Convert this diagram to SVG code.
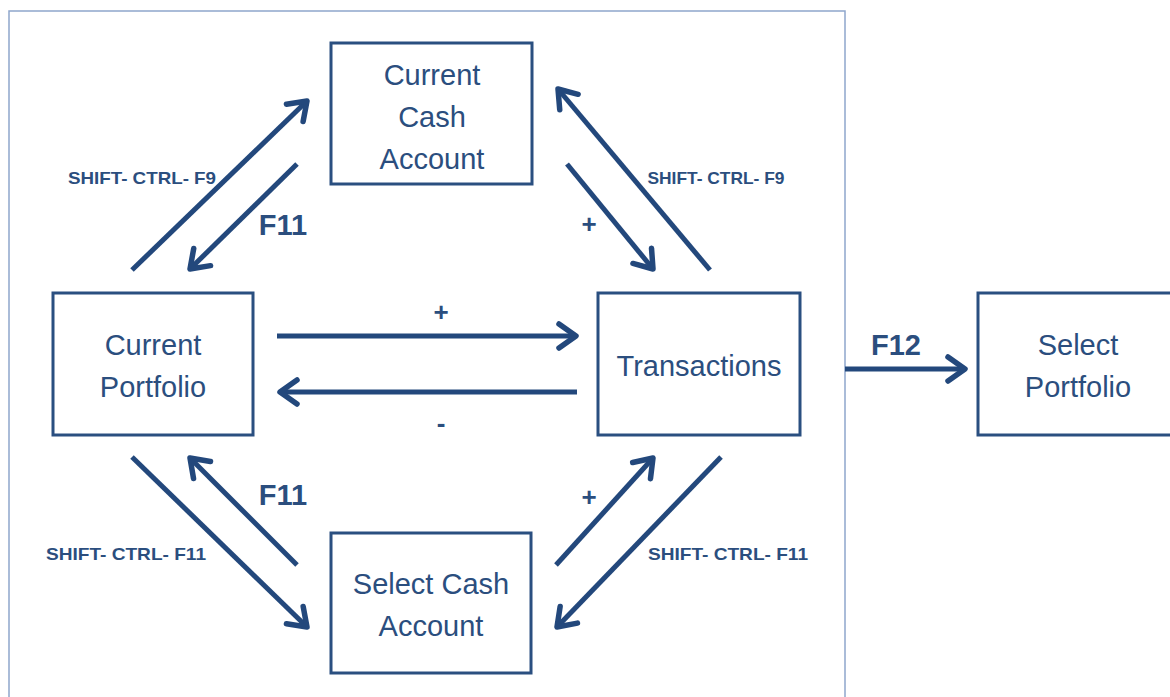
<svg xmlns="http://www.w3.org/2000/svg" width="1170" height="697" viewBox="0 0 1170 697">
<defs>
<style>
.frame{fill:none;stroke:#8EA6CC;stroke-width:1.5}
.box{fill:#fff;stroke:#2A4F80;stroke-width:3}
.lbl{font-family:"Liberation Sans",Arial,sans-serif;fill:#2B4E7E;font-size:29px;text-anchor:middle}
.key{font-family:"Liberation Sans",Arial,sans-serif;fill:#2B4E7E;font-weight:bold;text-anchor:middle}
.s{font-size:17px}
.b{font-size:29px}
.p{font-size:26px}
.arr{fill:none;stroke:#23487C;stroke-width:5;marker-end:url(#ah)}
</style>
<marker id="ah" markerUnits="userSpaceOnUse" markerWidth="34" markerHeight="34" viewBox="0 0 34 34" refX="28" refY="17" orient="auto" overflow="visible">
<path d="M11,5 L28,17 L11,29" fill="none" stroke="#23487C" stroke-width="5.5" stroke-linecap="round" stroke-linejoin="round"/>
</marker>
</defs>
<rect class="frame" x="9" y="11" width="836" height="700"/>
<g id="connectors">
<line class="arr" x1="132" y1="270" x2="307" y2="101"/>
<line class="arr" x1="297" y1="164" x2="190" y2="269"/>
<line class="arr" x1="567" y1="164" x2="653" y2="269"/>
<line class="arr" x1="710" y1="270" x2="558" y2="89"/>
<line class="arr" x1="277" y1="336" x2="576" y2="336"/>
<line class="arr" x1="577" y1="392" x2="280" y2="392"/>
<line class="arr" x1="845" y1="369" x2="965" y2="369"/>
<line class="arr" x1="132" y1="457" x2="307" y2="627"/>
<line class="arr" x1="297" y1="565" x2="190" y2="458"/>
<line class="arr" x1="556" y1="565" x2="653" y2="458"/>
<line class="arr" x1="721" y1="457" x2="557" y2="627"/>
<text class="key s" x="142" y="184" textLength="148" lengthAdjust="spacingAndGlyphs">SHIFT- CTRL- F9</text>
<text class="key b" x="283" y="235">F11</text>
<text class="key p" x="589" y="233">+</text>
<text class="key s" x="716" y="184" textLength="137" lengthAdjust="spacingAndGlyphs">SHIFT- CTRL- F9</text>
<text class="key p" x="441" y="321">+</text>
<text class="key p" x="441" y="432">-</text>
<text class="key b" x="896" y="355">F12</text>
<text class="key b" x="283" y="505">F11</text>
<text class="key s" x="126" y="560" textLength="160" lengthAdjust="spacingAndGlyphs">SHIFT- CTRL- F11</text>
<text class="key p" x="589" y="506">+</text>
<text class="key s" x="728" y="560" textLength="160" lengthAdjust="spacingAndGlyphs">SHIFT- CTRL- F11</text>
</g>
<g id="current-cash-account">
<rect class="box" x="331" y="43" width="201" height="141"/>
<text class="lbl" x="432" y="85">Current</text>
<text class="lbl" x="432" y="127">Cash</text>
<text class="lbl" x="432" y="169">Account</text>
</g>
<g id="current-portfolio">
<rect class="box" x="53" y="293" width="200" height="142"/>
<text class="lbl" x="153" y="355">Current</text>
<text class="lbl" x="153" y="397">Portfolio</text>
</g>
<g id="transactions">
<rect class="box" x="598" y="293" width="202" height="142"/>
<text class="lbl" x="699" y="376">Transactions</text>
</g>
<g id="select-portfolio">
<rect class="box" x="978" y="293" width="210" height="142"/>
<text class="lbl" x="1078" y="355">Select</text>
<text class="lbl" x="1078" y="397">Portfolio</text>
</g>
<g id="select-cash-account">
<rect class="box" x="331" y="533" width="200" height="140"/>
<text class="lbl" x="431" y="594">Select Cash</text>
<text class="lbl" x="431" y="636">Account</text>
</g>
</svg>
